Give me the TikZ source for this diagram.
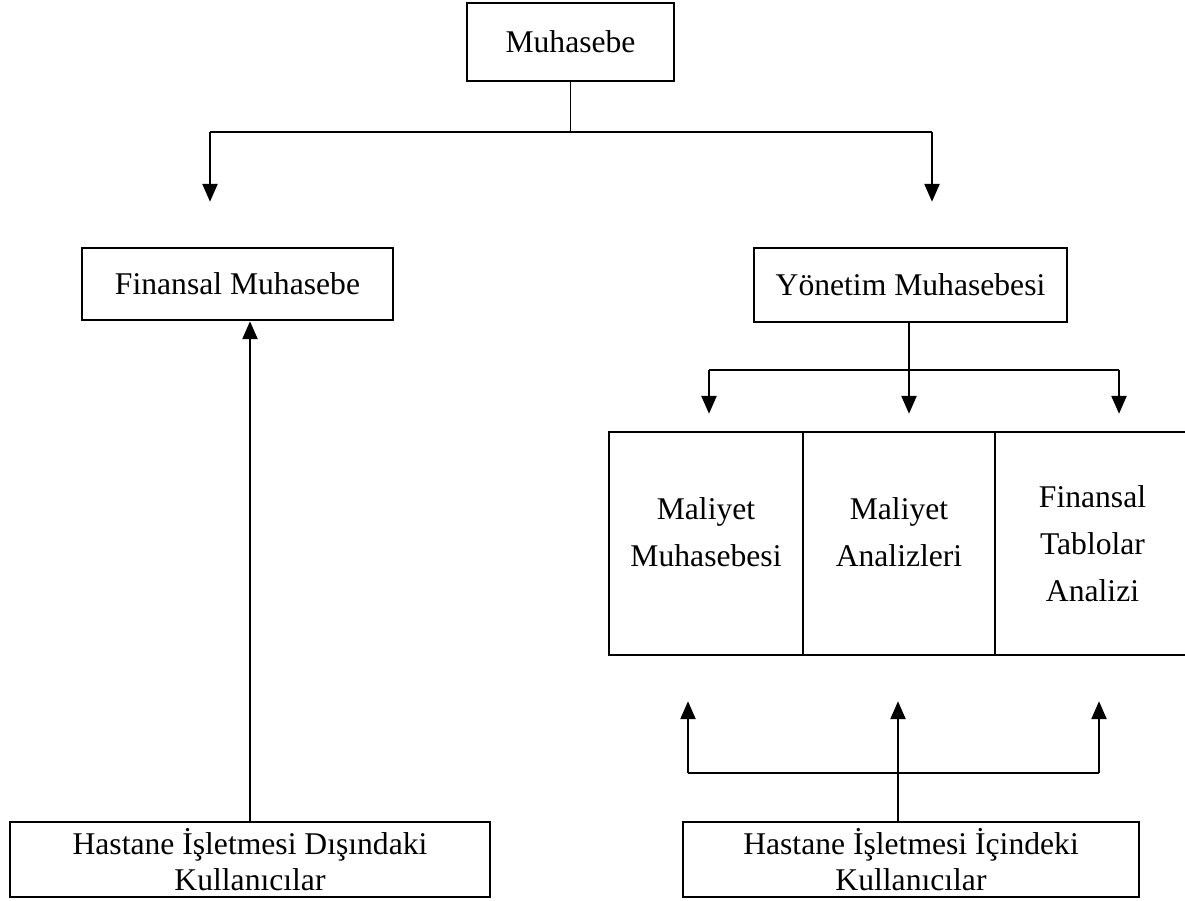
\documentclass[tikz,border=0pt]{standalone}
\usepackage{fontspec}
\setmainfont{Liberation Serif}
\usetikzlibrary{arrows.meta}

\begin{document}
\begin{tikzpicture}[x=0.02cm, y=-0.02cm,
    box/.style={draw, line width=1.4pt, inner sep=0pt, align=center,
      font=\fontsize{18}{20.5}\selectfont},
    celltext/.style={inner sep=0pt, align=center,
      font=\fontsize{18}{26.7}\selectfont},
    conn/.style={line width=1.4pt},
    feed/.style={line width=0.8pt},
    arr/.style={line width=1.4pt, -{Triangle[length=0.36cm, width=0.3cm]}}]
      \useasboundingbox (0,0) rectangle (1185,900);

      % Top box
      \node[box, minimum width=4.14cm, minimum height=1.56cm] (muh) at (570.5,42) {Muhasebe};

      % Second level
      \node[box, minimum width=6.22cm, minimum height=1.44cm] (fin) at (237.5,284) {Finansal Muhasebe};
      \node[box, minimum width=6.26cm, minimum height=1.48cm] (yon) at (910.5,285) {Yönetim Muhasebesi};

      % Table of three cells
      \node[box, minimum width=3.88cm, minimum height=4.46cm] (c1) at (706,543.5) {};
      \node[box, minimum width=3.84cm, minimum height=4.46cm] (c2) at (899,543.5) {};
      \node[box, minimum width=3.9cm, minimum height=4.46cm] (c3) at (1092.5,543.5) {};
      \node[celltext] (c1t) at (706,532) {Maliyet\\Muhasebesi};
      \node[celltext] (c2t) at (899,532) {Maliyet\\Analizleri};
      \node[celltext] (c3t) at (1092.5,544) {Finansal\\Tablolar\\Analizi};

      % Users
      \node[box, minimum width=9.6cm, minimum height=1.5cm] (ext) at (250,859.5)
      {Hastane İşletmesi Dışındaki\\Kullanıcılar};
      \node[box, minimum width=9.12cm, minimum height=1.5cm] (int) at (911,859.5)
      {Hastane İşletmesi İçindeki\\Kullanıcılar};

      % Split below Muhasebe
      \coordinate (top-l) at (210,132);
      \coordinate (top-r) at (932,132);
      \draw[feed] (muh.south) -- (muh.south |- top-l);
      \draw[conn] (top-l) -- (top-r);
      \draw[arr, shorten >=0.9cm] (top-l) -- (top-l |- fin.north);
      \draw[arr, shorten >=0.9cm] (top-r) -- (top-r |- yon.north);

      % Split below Yonetim Muhasebesi
      \coordinate (mid-l) at (709,370);
      \coordinate (mid-m) at (909,370);
      \coordinate (mid-r) at (1119,370);
      \draw[conn] (yon.south -| mid-m) -- (mid-m);
      \draw[conn] (mid-l) -- (mid-r);
      \draw[arr, shorten >=0.34cm] (mid-l) -- (mid-l |- c1.north);
      \draw[arr, shorten >=0.34cm] (mid-m) -- (mid-m |- c2.north);
      \draw[arr, shorten >=0.34cm] (mid-r) -- (mid-r |- c3.north);

      % Outside users
      \draw[arr] (ext.north) -- (ext.north |- fin.south);

      % Inside users
      \coordinate (low-l) at (688,773);
      \coordinate (low-m) at (898,773);
      \coordinate (low-r) at (1099,773);
      \draw[feed] (int.north -| low-m) -- (low-m);
      \draw[conn] (low-l) -- (low-r);
      \draw[arr, shorten >=0.9cm] (low-l) -- (low-l |- c1.south);
      \draw[arr, shorten >=0.9cm] (low-m) -- (low-m |- c2.south);
      \draw[arr, shorten >=0.9cm] (low-r) -- (low-r |- c3.south);
    \end{tikzpicture}
\end{document}
